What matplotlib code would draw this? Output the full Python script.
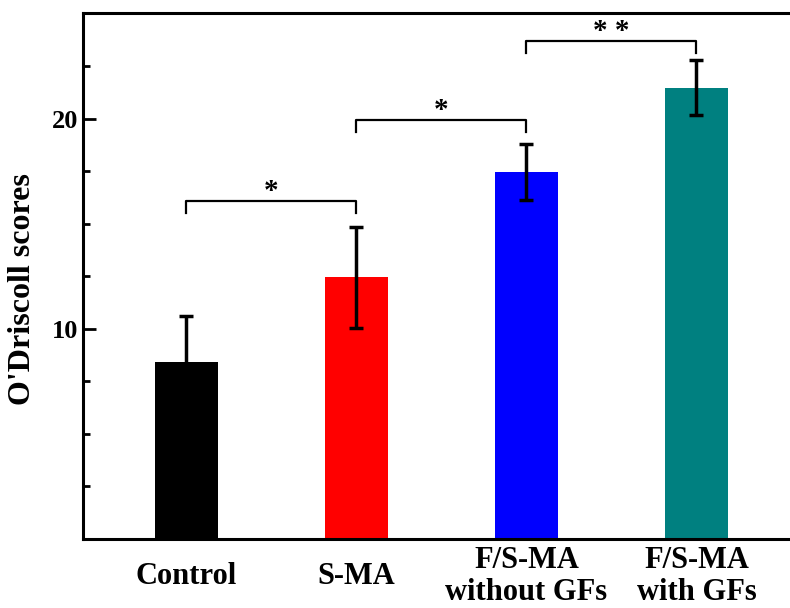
import numpy as np
import matplotlib.pyplot as plt
from matplotlib.ticker import FixedLocator, MultipleLocator

plt.rcParams['font.family'] = ['Liberation Serif', 'DejaVu Serif']
plt.rcParams['font.weight'] = 'bold'

groups = ['Control', 'S-MA', 'F/S-MA\nwithout GFs', 'F/S-MA\nwith GFs']
scores = [8.4, 12.45, 17.47, 21.47]
errors = [2.2, 2.4, 1.32, 1.3]
colors = ['#000000', '#ff0000', '#0000ff', '#008080']

# significance brackets: (left group, right group, height, label)
pairs = [(0, 1, 16.07, '*'), (1, 2, 19.93, '*'), (2, 3, 23.7, '* *')]
leg = 0.57

fig = plt.figure(figsize=(7.9, 6.08), dpi=100)
ax = fig.add_axes([0.1047, 0.1135, 0.8953, 0.8643])

x = np.arange(len(groups))
ax.bar(x, scores, width=0.37, color=colors, zorder=2)
ax.errorbar(x, scores, yerr=errors, fmt='none', ecolor='black',
            elinewidth=2.5, capsize=5, capthick=2.5, zorder=3)

for a, b, h, s in pairs:
    ax.plot([a, a, b, b], [h - leg, h, h, h - leg], color='black', lw=1.6, zorder=3)
    ax.text((a + b) / 2, h - 0.2, s, ha='center', va='bottom', fontsize=21,
            fontweight='bold')

ax.set_xlim(-0.609, 3.55)
ax.set_ylim(0, 25)
ax.set_xticks(x)
ax.set_xticklabels(groups, fontsize=22, fontweight='bold', linespacing=1.1)
plt.setp(ax.get_xticklabels(), va='center')
ax.tick_params(axis='x', length=0, pad=27)

ax.yaxis.set_major_locator(FixedLocator([10, 20]))
ax.yaxis.set_minor_locator(MultipleLocator(2.5))
ax.tick_params(axis='y', which='major', direction='in', length=9, width=2,
               labelsize=19, pad=3)
ax.tick_params(axis='y', which='minor', direction='in', length=5, width=2)
for t in ax.get_yticklabels():
    t.set_fontweight('bold')

ax.set_ylabel("O'Driscoll scores", fontsize=23, fontweight='bold')
ax.yaxis.set_label_coords(-0.064, 0.476)

for side in ['left', 'top', 'bottom']:
    ax.spines[side].set_linewidth(2.2)
ax.spines['right'].set_visible(False)

fig.savefig('out.png', dpi=100)
